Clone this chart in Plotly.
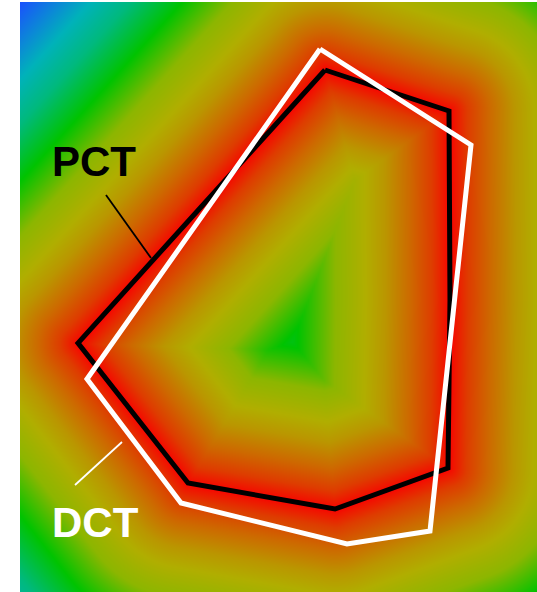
import numpy as np
import plotly.graph_objects as go

# Polygon vertices (image pixel coordinates)
pct_x = [325, 449, 450, 448, 335, 188, 78]
pct_y = [70, 111, 300, 468, 509, 483, 343]
dct_x = [320, 471, 430, 347, 181, 87]
dct_y = [49, 145, 531, 544, 503, 379]

# label positions and leader lines
pct_label = ("PCT", 94, 161)
dct_label = ("DCT", 95, 522)
pct_leader_x = [106, 151]
pct_leader_y = [195, 258]
dct_leader_x = [122, 75]
dct_leader_y = [442, 485]

# extent of the map
x0, x1, y0, y1 = 20, 537, 2, 592
step = 2

gx = np.arange(x0, x1 + step, step, dtype=float)
gy = np.arange(y0, y1 + step, step, dtype=float)
X, Y = np.meshgrid(gx, gy)

px = np.array(pct_x + [pct_x[0]], dtype=float)
py = np.array(pct_y + [pct_y[0]], dtype=float)
D = np.full(X.shape, np.inf)
for i in range(len(px) - 1):
    ax, ay, bx, by = px[i], py[i], px[i + 1], py[i + 1]
    dx, dy = bx - ax, by - ay
    t = ((X - ax) * dx + (Y - ay) * dy) / (dx * dx + dy * dy)
    t = np.clip(t, 0, 1)
    cx, cy = ax + t * dx, ay + t * dy
    D = np.minimum(D, np.hypot(X - cx, Y - cy))

dmax = 290.0
stops = [
    (0, "rgb(250,0,0)"),
    (5, "rgb(240,20,0)"),
    (18, "rgb(222,60,0)"),
    (40, "rgb(205,105,0)"),
    (65, "rgb(186,150,0)"),
    (85, "rgb(176,174,0)"),
    (115, "rgb(140,182,0)"),
    (152, "rgb(0,195,0)"),
    (190, "rgb(0,185,125)"),
    (220, "rgb(0,178,185)"),
    (270, "rgb(25,85,250)"),
    (290, "rgb(25,70,255)"),
]
colorscale = [[d / dmax, c] for d, c in stops]

fig = go.Figure()
fig.add_trace(go.Heatmap(
    x=gx, y=gy, z=D, zmin=0, zmax=dmax, colorscale=colorscale,
    showscale=False, zsmooth="best", hoverinfo="skip"))

fig.add_trace(go.Scatter(
    x=pct_x + [pct_x[0]], y=pct_y + [pct_y[0]], mode="lines",
    line=dict(color="black", width=5), hoverinfo="skip", showlegend=False))
fig.add_trace(go.Scatter(
    x=dct_x + [dct_x[0]], y=dct_y + [dct_y[0]], mode="lines",
    line=dict(color="white", width=5), hoverinfo="skip", showlegend=False))
fig.add_trace(go.Scatter(
    x=pct_leader_x, y=pct_leader_y, mode="lines",
    line=dict(color="black", width=1.8), hoverinfo="skip", showlegend=False))
fig.add_trace(go.Scatter(
    x=dct_leader_x, y=dct_leader_y, mode="lines",
    line=dict(color="white", width=1.8), hoverinfo="skip", showlegend=False))

for (txt, lx, ly), col in [(pct_label, "black"), (dct_label, "white")]:
    fig.add_annotation(x=lx, y=ly, text="<b>%s</b>" % txt, showarrow=False,
                       xanchor="center", yanchor="middle",
                       font=dict(family="Liberation Sans, Arial", size=42, color=col))

fig.update_xaxes(range=[x0, x1], visible=False, showgrid=False, zeroline=False)
fig.update_yaxes(range=[y1, y0], visible=False, showgrid=False, zeroline=False)
fig.update_layout(width=537, height=592, margin=dict(l=20, r=0, t=2, b=0),
                  paper_bgcolor="white", plot_bgcolor="white")
fig.write_html("out.html", config={"displayModeBar": False},
               post_script="document.body.style.margin='0';"
                           "document.body.style.overflow='hidden';")
